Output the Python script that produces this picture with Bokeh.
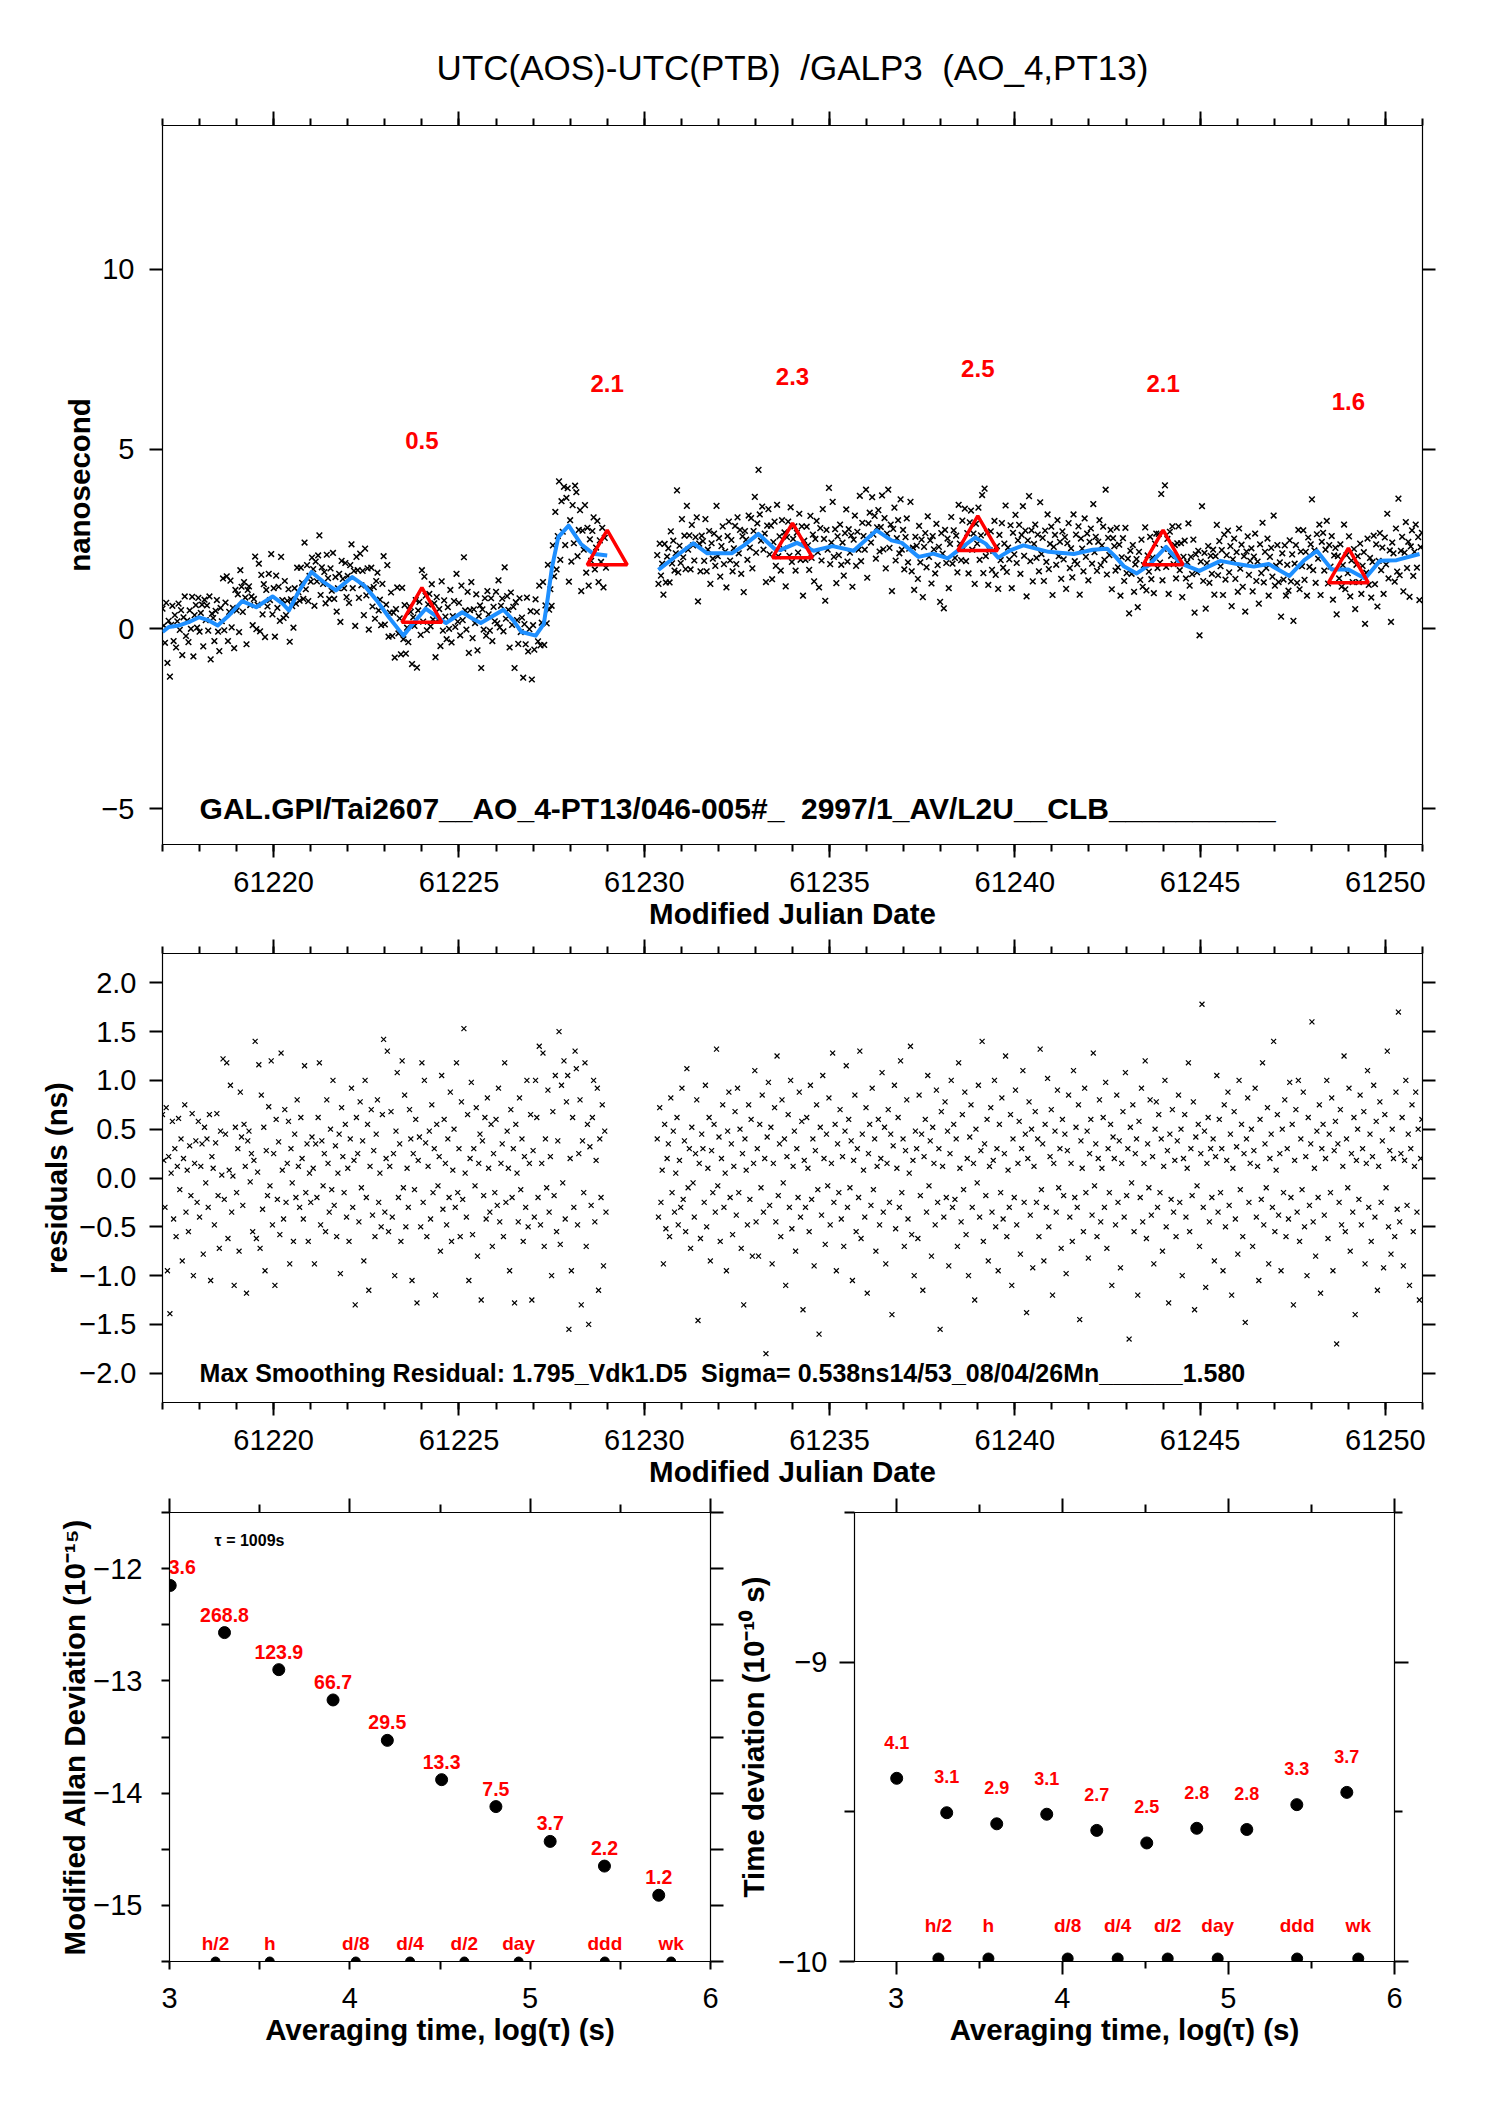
import numpy as np
from bokeh.plotting import figure
from bokeh.models import Range1d, LinearAxis, FixedTicker, Label, CustomJSTickFormatter, Title
from bokeh.layouts import column, row
from bokeh.embed import file_html
from bokeh.resources import INLINE
from bokeh.core.properties import value

FONT = "Liberation Sans"
NB = "\u00a0"

# ------------------------------------------------------------------ data
title_text = "UTC(AOS)-UTC(PTB) " + NB + "/GALP3 " + NB + "(AO_4,PT13)"
info_top = "GAL.GPI/Tai2607__AO_4-PT13/046-005#_ " + NB + "2997/1_AV/L2U__CLB__________"
info_mid = "Max Smoothing Residual: 1.795_Vdk1.D5 " + NB + "Sigma= 0.538ns14/53_08/04/26Mn______1.580"

seg_a_start = 61217.0      # MJD of first sample, first block
seg_b_start = 61230.35     # MJD of first sample, second block
samples_per_day = 30

# UTC(AOS)-UTC(PTB) samples, hundredths of ns
top_a = [
    56, 9, -39, 72, -95, 22, -133, 11, 64, -34, 38, -52, 21, 70, -3, 52, -73, 32, 90, -20, 23, -37, 51, 0, 89, -77, 38, 66, 3, 86,
    -8, 44, 67, -49, 81, 24, 65, -5, 90, -85, 42, 30, -34, 50, 80, -8, -62, 58, 21, 140, -4, 73, 146, -34, 47, 134, 4, 58, -54, 108,
    51, 96, -9, 163, 117, 47, 130, 87, -43, 108, 118, 66, 90, 10, 83, 201, -1, 67, 181, -7, 150, 40, 124, -23, 108, 62, 153, 80, 208, 40,
    113, -22, 148, 58, 117, 22, 200, 80, 30, 133, 38, 78, 110, -36, 82, 63, 3, 113, 70, 170, 102, 78, 170, 128, 83, 240, 110, 177, 77, 147,
    131, 198, 166, 64, 187, 132, 204, 260, 94, 171, 125, 158, 71, 206, 141, 83, 168, 106, 211, 83, 144, 48, 113, 153, 19, 189, 139, 113, 183, 88,
    147, 72, 177, 235, 113, 161, 8, 200, 163, 86, 209, 121, 161, 38, 223, 93, 168, -2, 112, 170, 62, 116, 28, 133, 156, 51, 81, 10, 125, 202,
    12, 67, 177, -22, 45, 101, -20, 45, -80, 55, 115, -13, 29, -71, 114, -29, 66, -69, 3, -37, 63, 47, -98, 32, 8, 80, -108, 51, 75, -17,
    163, 20, 145, 92, -4, 68, 97, 7, 124, 26, 71, -79, 88, 25, 55, -48, 132, -5, 79, 34, -29, 60, 0, 108, -38, 35, 77, 5, 153, 20,
    72, -18, 120, 24, 199, 51, -2, 103, -67, 52, 130, -26, 54, 16, 96, -60, 35, 65, -109, 54, -2, 85, -19, 105, 40, -5, 85, -34, 61, 21,
    103, 15, 135, 4, 64, 84, -7, 171, 28, 91, 53, -52, 101, 11, 61, -109, 74, 24, -42, 85, -9, 31, -136, 13, -43, 87, -63, -1, 49, -141,
    10, -58, 82, 47, -35, 120, -46, 17, 130, -45, 65, 15, 178, 53, 110, 64, 232, 146, 325, 165, 258, 410, 192, 355, 270, 395, 233, 364, 391, 131,
    302, 187, 344, 238, 398, 380, 202, 275, 330, 105, 273, 220, 344, 156, 281, 120, 249, 189, 272, 310, 165, 226, 300, 130, 246, 186, 281, 115, 253, 170,
]
top_b = [
    205, 125, 237, 148, 181, 95, 236, 129, 201, 224, 129, 271, 182, 245, 162, 210, 385, 157, 231, 183, 305, 199, 259, 166, 342, 220, 260, 165, 289, 232,
    190, 255, 310, 76, 237, 160, 259, 244, 189, 305, 160, 220, 272, 125, 238, 195, 265, 175, 342, 202, 252, 145, 230, 285, 180, 215, 115, 258, 298, 190,
    247, 160, 224, 286, 180, 310, 210, 275, 153, 257, 102, 272, 248, 192, 315, 226, 308, 168, 272, 367, 212, 293, 442, 318, 245, 340, 220, 265, 130, 287,
    333, 207, 287, 138, 241, 298, 175, 345, 202, 257, 162, 302, 223, 268, 118, 255, 298, 203, 338, 186, 250, 285, 162, 267, 212, 320, 192, 285, 92, 245,
    192, 284, 232, 164, 314, 197, 262, 132, 250, 300, 213, 115, 280, 190, 333, 250, 78, 275, 220, 392, 180, 240, 353, 200, 277, 127, 257, 205, 290, 178,
    240, 148, 266, 332, 187, 277, 212, 260, 117, 248, 315, 175, 270, 220, 370, 188, 295, 258, 220, 387, 142, 293, 323, 240, 366, 262, 314, 195, 282, 330,
    215, 283, 371, 221, 308, 168, 265, 387, 225, 290, 105, 278, 337, 190, 252, 302, 210, 360, 220, 275, 165, 255, 307, 185, 223, 353, 160, 226, 108, 256,
    231, 139, 286, 185, 248, 88, 228, 266, 171, 313, 200, 246, 126, 258, 221, 154, 292, 177, 228, 75, 266, 209, 57, 275, 183, 251, 113, 236, 311, 181,
    274, 197, 259, 157, 345, 237, 191, 301, 224, 334, 188, 266, 154, 296, 329, 220, 265, 125, 292, 237, 337, 192, 260, 372, 155, 390, 202, 267, 122, 219,
    271, 164, 217, 300, 150, 230, 111, 261, 191, 294, 170, 237, 343, 158, 226, 193, 288, 113, 267, 207, 317, 183, 246, 289, 153, 261, 341, 203, 273, 90,
    246, 369, 188, 274, 132, 236, 290, 197, 262, 160, 352, 208, 253, 133, 273, 186, 318, 166, 236, 284, 94, 228, 261, 178, 302, 202, 242, 139, 271, 193,
    255, 111, 238, 294, 169, 224, 143, 318, 188, 262, 180, 285, 95, 251, 223, 160, 307, 200, 265, 135, 242, 279, 181, 347, 213, 256, 161, 242, 302, 177,
    232, 284, 192, 387, 151, 253, 205, 275, 110, 252, 230, 162, 281, 171, 234, 92, 199, 252, 133, 281, 155, 195, 43, 217, 153, 233, 103, 179, 194, 60,
    214, 136, 248, 117, 177, 282, 107, 204, 159, 256, 138, 198, 99, 237, 265, 169, 264, 184, 375, 135, 222, 399, 172, 250, 97, 270, 203, 285, 180, 233,
    140, 238, 285, 163, 238, 88, 200, 245, 140, 185, 293, 120, 200, 152, 248, 45, 207, 157, 217, -18, 187, 341, 133, 211, 56, 183, 230, 128, 203, 153,
    220, 95, 202, 289, 149, 244, 174, 219, 94, 262, 137, 205, 273, 157, 230, 63, 193, 251, 139, 213, 103, 279, 167, 234, 117, 202, 48, 215, 257, 150,
    189, 224, 104, 201, 265, 133, 187, 70, 235, 155, 295, 129, 214, 169, 251, 92, 200, 225, 145, 315, 120, 176, 233, 130, 185, 34, 210, 137, 232, 92,
    178, 106, 246, 132, 207, 22, 181, 233, 128, 275, 110, 215, 174, 274, 136, 214, 92, 254, 172, 235, 360, 163, 218, 128, 263, 195, 290, 94, 242, 267,
    162, 220, 300, 126, 233, 173, 258, 81, 204, 225, 40, 202, 140, 235, 117, 177, 290, 110, 205, 155, 257, 90, 190, 130, 222, 55, 178, 202, 130, 237,
    97, 175, 213, 14, 156, 251, 122, 197, 87, 186, 259, 124, 235, 62, 189, 266, 163, 226, 97, 254, 179, 320, 140, 218, 19, 240, 210, 131, 279, 159,
    362, 149, 217, 256, 104, 212, 297, 169, 242, 89, 229, 274, 147, 214, 290, 170, 255, 80, 227, 267,
]

# smoothing residuals, hundredths of ns
res_a = [
    65, 18, -30, 72, -95, 22, -139, 5, 58, -42, 30, -60, 12, 61, -12, 40, -85, 20, 75, -35, 8, -55, 33, -18, 66, -100, 15, 38, -25, 58,
    -40, 12, 35, -78, 52, -5, 40, -30, 65, -105, 22, 10, -48, 36, 66, -18, -72, 48, 3, 122, -22, 45, 118, -62, 8, 95, -35, 2, -110, 52,
    -15, 30, -75, 88, 42, -28, 55, 12, -118, 38, 48, -4, 25, -55, 18, 140, -62, 6, 116, -72, 85, -32, 52, -95, 28, -18, 73, -8, 120, -48,
    25, -110, 60, -22, 37, -58, 128, 8, -42, 70, -25, 15, 58, -88, 30, -5, -65, 45, -20, 80, 12, -30, 62, 20, -42, 115, -15, 35, -65, 5,
    -25, 42, 10, -88, 35, -20, 62, 118, -48, 38, -8, 25, -55, 80, 15, -35, 50, -12, 100, -28, 33, -60, 5, 45, -98, 72, 22, -15, 55, -40,
    10, -65, 40, 92, -30, 18, -130, 62, 25, -45, 78, -10, 38, -85, 100, -20, 55, -115, 12, 70, -38, 28, -60, 45, 80, -25, 5, -50, 65, 142,
    -35, 20, 130, -55, 12, 68, -40, 25, -100, 48, 108, -20, 35, -65, 120, -10, 85, -50, 10, -30, 70, 40, -105, 25, -12, 60, -128, 18, 42, -50,
    118, -25, 100, 36, -60, 12, 48, -42, 75, -15, 30, -120, 55, -8, 22, -75, 105, -32, 60, 15, -48, 40, -20, 88, -65, 8, 50, -30, 118, -15,
    30, -60, 78, -22, 153, 5, -40, 65, -105, 20, 98, -58, 30, -8, 72, -80, 15, 45, -125, 38, -18, 62, -42, 82, 10, -35, 55, -70, 25, -15,
    60, -28, 92, -45, 15, 35, -60, 118, -25, 48, 10, -95, 70, -20, 30, -128, 55, 5, -45, 82, -12, 40, -65, 22, -30, 100, -50, 15, 65, -125,
    28, -40, 100, 62, -20, 135, -48, 15, 128, -70, 40, -10, 90, -35, 22, -100, 68, -18, 105, -55, 38, 150, -68, 95, -5, 120, -42, 78, 105, -155,
    20, -95, 62, -30, 130, 112, -48, 25, 80, -130, 38, -15, 118, -70, 55, -150, 32, -28, 62, 100, -45, 18, 92, -115, 40, -20, 75, -90, 48, -35,
]
res_b = [
    40, -40, 72, -25, 8, -88, 55, -52, 20, 35, -60, 82, -15, 48, -35, 5, 62, -48, 18, -30, 92, -22, 38, -55, 112, -10, 30, -72, 52, -5,
    -40, 25, 80, -146, 15, -62, 45, 30, -25, 95, -50, 10, 62, -85, 28, -15, 55, -35, 132, -8, 42, -65, 20, 75, -30, 5, -95, 48, 88, -20,
    35, -58, 12, 68, -38, 92, -15, 50, -72, 25, -130, 40, 8, -48, 75, -22, 60, -80, 15, 110, -45, 30, -80, 55, -10, 85, -35, 20, -180, 42,
    98, -28, 52, -88, 15, 72, -45, 125, -18, 35, -60, 80, -5, 40, -110, 22, 65, -30, 100, -52, 12, 48, -75, 30, -20, 88, -40, 58, -135, 18,
    -30, 62, 10, -55, 95, -22, 40, -90, 28, 75, -12, -160, 52, -38, 105, 20, -68, 45, -8, 82, -48, 15, 128, -25, 55, -95, 35, -15, 70, -42,
    22, -70, 48, 115, -30, 60, -10, 38, -105, 18, 85, -55, 30, -20, 130, -62, 45, 8, -40, 72, -118, 25, 55, -28, 92, -12, 40, -75, 12, 60,
    -48, 20, 108, -35, 52, -88, 15, 70, -25, 45, -140, 33, 95, -52, 10, 62, -30, 120, -15, 40, -70, 28, 80, -42, 5, 135, -58, 18, -100, 48,
    30, -62, 85, -18, 45, -115, 22, 60, -35, 105, -8, 38, -80, 52, 15, -48, 90, -25, 30, -155, 68, 12, -40, 78, -20, 48, -90, 25, 100, -30,
    55, -22, 40, -70, 118, 10, -45, 65, -12, 88, -58, 20, -100, 42, 75, -30, 15, -125, 50, -5, 95, -40, 28, 140, -65, 35, -18, 60, -85, 12,
    72, -35, 18, 100, -50, 30, -95, 55, -15, 82, -42, 25, 125, -60, 8, -30, 65, -110, 40, -20, 90, -48, 15, 58, -78, 30, 110, -25, 45, -138,
    20, 78, -38, 50, -92, 12, 68, -25, 40, -60, 132, -12, 35, -85, 55, -30, 102, -50, 22, 70, -120, 15, 48, -35, 90, -10, 30, -72, 60, -18,
    45, -98, 28, 85, -40, 15, -65, 110, -20, 52, -30, 75, -145, 38, 10, -55, 92, -15, 48, -82, 25, 60, -38, 128, -8, 35, -60, 20, 80, -45,
    10, 62, -30, 98, -72, 30, -15, 55, -110, 42, 20, -48, 85, -25, 38, -92, 15, 68, -40, 108, -18, 30, -165, 52, -5, 75, -55, 25, 40, -120,
    58, -20, 92, -45, 15, 120, -62, 35, -10, 80, -38, 22, -88, 50, 78, -30, 65, -15, 40, -75, 12, 100, -50, 28, -128, 45, -22, 70, -35, 18,
    -60, 38, 85, -25, 50, -100, 20, 65, -40, 10, 118, -55, 30, -18, 78, -135, 42, -8, 55, -70, 25, 178, -30, 48, -112, 15, 62, -45, 30, -20,
    40, -85, 22, 105, -35, 60, -15, 30, -95, 75, -50, 18, 88, -28, 45, -120, 10, 68, -42, 32, -78, 100, -12, 55, -60, 25, -148, 40, 82, -25,
    15, 50, -70, 28, 92, -40, 12, -105, 60, -22, 118, -48, 35, -10, 72, -88, 20, 45, -30, 140, -55, 8, 65, -38, 25, -95, 50, -15, 80, -60,
    30, -42, 98, -20, 55, -130, 18, 70, -35, 100, -65, 40, -12, 88, -50, 22, -100, 62, -28, 35, 160, -45, 10, -80, 48, -20, 75, -118, 30, 55,
    -38, 20, 100, -62, 45, -15, 82, -95, 28, 58, -170, 35, -25, 70, -48, 12, 125, -55, 40, -10, 92, -75, 25, -35, 62, -140, 18, 50, -22, 85,
    -48, 30, 68, -88, 15, 110, -30, 45, -65, 22, 95, -40, 58, -115, 12, 78, -25, 38, -92, 65, -10, 130, -50, 28, -78, 50, 20, -60, 88, -32,
    170, -45, 25, 62, -90, 18, 100, -28, 45, -110, 30, 75, -55, 12, 88, -35, 50, -125, 20, 60,
]

# smoothed curve (blue), MJD / ns
curve_a_x = [61217.00, 61217.17, 61217.44, 61217.72, 61217.99, 61218.21, 61218.49, 61218.76, 61219.15, 61219.53,
             61219.97, 61220.25, 61220.41, 61220.69, 61221.02, 61221.35, 61221.68, 61222.12, 61222.45, 61222.78,
             61223.11, 61223.50, 61223.83, 61224.10, 61224.43, 61224.65, 61225.09, 61225.37, 61225.59, 61226.20,
             61226.47, 61226.69, 61227.07, 61227.29, 61227.40, 61227.51, 61227.68, 61227.96, 61228.29, 61228.62, 61229.00]
curve_a_y = [-0.09, 0.05, 0.09, 0.19, 0.32, 0.25, 0.09, 0.34, 0.77, 0.60,
             0.90, 0.69, 0.51, 1.07, 1.58, 1.30, 1.07, 1.44, 1.20, 0.79,
             0.32, -0.19, 0.23, 0.56, 0.32, 0.16, 0.46, 0.28, 0.16, 0.53,
             0.23, -0.09, -0.19, 0.14, 0.88, 1.71, 2.55, 2.87, 2.36, 2.09, 2.04]
curve_b_x = [61230.38, 61230.82, 61231.32, 61231.70, 61232.36, 61232.69, 61233.08, 61233.52, 61233.67, 61234.12,
             61234.57, 61235.08, 61235.65, 61236.27, 61236.67, 61236.95, 61237.40, 61237.80, 61238.19, 61238.59,
             61238.93, 61239.21, 61239.55, 61239.89, 61240.23, 61240.91, 61241.59, 61242.10, 61242.49, 61242.72,
             61242.95, 61243.29, 61243.62, 61244.08, 61244.47, 61244.98, 61245.55, 61246.00, 61246.45, 61246.85,
             61247.41, 61247.81, 61248.15, 61248.55, 61249.00, 61249.45, 61249.85, 61250.30, 61250.92]
curve_b_y = [1.64, 1.99, 2.38, 2.10, 2.10, 2.32, 2.64, 2.22, 2.19, 2.39,
             2.17, 2.30, 2.17, 2.74, 2.46, 2.39, 2.00, 2.09, 1.96, 2.28,
             2.54, 2.37, 1.98, 2.19, 2.32, 2.14, 2.08, 2.20, 2.23, 2.00,
             1.73, 1.54, 1.77, 2.28, 1.82, 1.61, 1.89, 1.80, 1.73, 1.80,
             1.47, 1.91, 2.17, 1.65, 1.65, 1.40, 1.89, 1.91, 2.08]

# 5-day mean markers
tri_mjd = [61224, 61229, 61234, 61239, 61244, 61249]
tri_val = [0.5, 2.1, 2.3, 2.5, 2.1, 1.6]
tri_lbl = ["0.5", "2.1", "2.3", "2.5", "2.1", "1.6"]

# stability
log_tau = [3.004, 3.305, 3.606, 3.907, 4.208, 4.509, 4.810, 5.111, 5.412, 5.713]
mdev = [-12.15, -12.57, -12.90, -13.17, -13.53, -13.88, -14.12, -14.43, -14.65, -14.91]
mdev_lbl = ["3.6", "268.8", "123.9", "66.7", "29.5", "13.3", "7.5", "3.7", "2.2", "1.2"]
tdev = [-9.388, -9.503, -9.540, -9.508, -9.562, -9.604, -9.555, -9.559, -9.476, -9.435]
tdev_lbl = ["4.1", "3.1", "2.9", "3.1", "2.7", "2.5", "2.8", "2.8", "3.3", "3.7"]
span_lbl = ["h/2", "h", "d/8", "d/4", "d/2", "day", "ddd", "wk"]
span_log = [3.255, 3.556, 4.033, 4.334, 4.635, 4.936, 5.414, 5.782]
tau0_text = "\u03c4 = 1009s"

mjd_major = [61220, 61225, 61230, 61235, 61240, 61245, 61250]
mjd_minor = list(range(61217, 61252))

# ------------------------------------------------------------------ helpers
def fmt(nd):
    return CustomJSTickFormatter(code="return tick.toFixed(%d).replace('-', '\u2212');" % nd)


def style_axis(ax, major, minor, out, minor_out, show=False, standoff=9, nd=0):
    ax.ticker = FixedTicker(ticks=major, minor_ticks=minor)
    ax.axis_line_color = None
    ax.major_tick_in = 0
    ax.minor_tick_in = 0
    ax.major_tick_out = out
    ax.minor_tick_out = minor_out
    ax.major_tick_line_width = 2
    ax.minor_tick_line_width = 2
    ax.major_tick_line_color = "black"
    ax.minor_tick_line_color = "black"
    if show:
        ax.formatter = fmt(nd)
        ax.major_label_text_font = FONT
        ax.major_label_text_font_size = "29px"
        ax.major_label_text_color = "black"
        ax.major_label_standoff = standoff
    else:
        ax.formatter = CustomJSTickFormatter(code="return '';")
        ax.major_label_standoff = 0
        ax.major_label_text_font_size = "1px"


def set_label(ax, text, standoff):
    ax.axis_label = text
    ax.axis_label_text_font = FONT
    ax.axis_label_text_font_size = "29.5px"
    ax.axis_label_text_font_style = "bold"
    ax.axis_label_text_color = "black"
    ax.axis_label_standoff = standoff


def make_fig(w, h, xr, yr, bl, br, bt, bb):
    p = figure(width=w, height=h, x_range=Range1d(*xr), y_range=Range1d(*yr),
               output_backend="svg", toolbar_location=None, title=None,
               min_border_left=bl, min_border_right=br, min_border_top=bt, min_border_bottom=bb)
    p.xgrid.visible = False
    p.ygrid.visible = False
    p.outline_line_color = "black"
    p.outline_line_width = 1.2
    p.background_fill_color = "white"
    p.border_fill_color = "white"
    p.add_layout(LinearAxis(), "above")
    p.add_layout(LinearAxis(), "right")
    return p


xa = seg_a_start + np.arange(len(top_a)) / samples_per_day
xb = seg_b_start + np.arange(len(top_b)) / samples_per_day

# ------------------------------------------------------------------ top panel
p1 = make_fig(1478, 936, (61217, 61251), (-6, 14), 162, 56, 125, 92)
p1.title = Title(text=title_text, align="center", text_font=FONT, text_font_size="35px",
                 text_font_style="normal", text_color="black", standoff=49)
style_axis(p1.below[0], mjd_major, mjd_minor, 13, 7, True, 14, 0)
style_axis(p1.above[0], mjd_major, mjd_minor, 14, 7)
style_axis(p1.left[0], [-5, 0, 5, 10], [], 13, 0, True, 15, 0)
style_axis(p1.right[0], [-5, 0, 5, 10], [], 13, 0)
set_label(p1.below[0], "Modified Julian Date", 2)
set_label(p1.left[0], "nanosecond", 2)

p1.scatter(xa, np.array(top_a) / 100, marker="x", size=8, line_color="#000000", line_width=1.5)
p1.scatter(xb, np.array(top_b) / 100, marker="x", size=8, line_color="#000000", line_width=1.5)
p1.line(curve_a_x, curve_a_y, line_color="#1E8FFF", line_width=4, line_join="round")
p1.line(curve_b_x, curve_b_y, line_color="#1E8FFF", line_width=4, line_join="round")
p1.scatter(tri_mjd, tri_val, marker="triangle", size=40, fill_color=None, line_color="red", line_width=3.5)
p1.text(tri_mjd, tri_val, text=tri_lbl, y_offset=-170, text_align="center", text_baseline="middle",
        text_font=value(FONT), text_font_size=value("24px"), text_font_style="bold", text_color="red")
p1.add_layout(Label(x=61218, y=-5, text=info_top, text_align="left", text_baseline="alphabetic",
                    text_font=FONT, text_font_size="30px", text_font_style="bold", text_color="black"))

# ------------------------------------------------------------------ residual panel
p2 = make_fig(1478, 558, (61217, 61251), (-2.3, 2.3), 162, 56, 17, 92)
res_ticks = [-2.0, -1.5, -1.0, -0.5, 0.0, 0.5, 1.0, 1.5, 2.0]
style_axis(p2.below[0], mjd_major, mjd_minor, 13, 7, True, 14, 0)
style_axis(p2.above[0], mjd_major, mjd_minor, 14, 7)
style_axis(p2.left[0], res_ticks, [], 13, 0, True, 13, 1)
style_axis(p2.right[0], res_ticks, [], 13, 0)
set_label(p2.below[0], "Modified Julian Date", 2)
set_label(p2.left[0], "residuals (ns)", 3)

p2.scatter(xa, np.array(res_a) / 100, marker="x", size=7, line_color="#000000", line_width=1.2)
p2.scatter(xb, np.array(res_b) / 100, marker="x", size=7, line_color="#000000", line_width=1.2)
p2.add_layout(Label(x=61218, y=-2.0, text=info_mid, text_align="left", text_baseline="middle",
                    text_font=FONT, text_font_size="25px", text_font_style="bold", text_color="black"))

# ------------------------------------------------------------------ MDEV panel
p3 = make_fig(729, 577, (3, 6), (-15.5, -11.5), 169, 19, 18, 110)
style_axis(p3.below[0], [3, 4, 5, 6], [3.5, 4.5, 5.5], 8, 8, True, 18, 0)
style_axis(p3.above[0], [3, 4, 5, 6], [3.5, 4.5, 5.5], 14, 8)
style_axis(p3.left[0], [-15, -14, -13, -12], [-15.5, -14.5, -13.5, -12.5, -11.5], 8, 8, True, 19, 0)
style_axis(p3.right[0], [-15, -14, -13, -12], [-15.5, -14.5, -13.5, -12.5, -11.5], 13, 13)
set_label(p3.below[0], "Averaging time, log(\u03c4) (s)", 2)
set_label(p3.left[0], "Modified Allan Deviation (10\u207b\u00b9\u2075)", -1)

p3.scatter(log_tau, mdev, size=12, color="black")
p3.text(log_tau[1:], mdev[1:], text=mdev_lbl[1:], y_offset=-18, text_align="center", text_baseline="middle",
        text_font=value(FONT), text_font_size=value("19.5px"), text_font_style="bold", text_color="red")
p3.text(log_tau[:1], mdev[:1], text=mdev_lbl[:1], x_offset=12, y_offset=-18, text_align="center",
        text_baseline="middle", text_font=value(FONT), text_font_size=value("19.5px"),
        text_font_style="bold", text_color="red")
p3.scatter(span_log, [-15.5] * len(span_log), size=9, color="black")
p3.text(span_log, [-15.5] * len(span_log), text=span_lbl, y_offset=-18, text_align="center",
        text_baseline="middle", text_font=value(FONT), text_font_size=value("19px"),
        text_font_style="bold", text_color="red")
p3.add_layout(Label(x=3.25, y=-11.75, text=tau0_text, text_align="left", text_baseline="middle",
                    text_font=FONT, text_font_size="16px", text_font_style="bold", text_color="black"))

# ------------------------------------------------------------------ TDEV panel
p4 = make_fig(749, 577, (2.75, 6), (-10, -8.5), 125, 84, 18, 110)
style_axis(p4.below[0], [3, 4, 5, 6], [3.5, 4.5, 5.5], 13, 7, True, 13, 0)
style_axis(p4.above[0], [3, 4, 5, 6], [3.5, 4.5, 5.5], 14, 8)
style_axis(p4.left[0], [-10, -9], [-9.5, -8.5], 15, 10, True, 12, 0)
style_axis(p4.right[0], [-10, -9], [-9.5, -8.5], 14, 8)
set_label(p4.below[0], "Averaging time, log(\u03c4) (s)", 2)
set_label(p4.left[0], "Time deviation (10\u207b\u00b9\u2070 s)", 5)

p4.scatter(log_tau, tdev, size=12, color="black")
p4.text(log_tau, tdev, text=tdev_lbl, y_offset=-36, text_align="center", text_baseline="middle",
        text_font=value(FONT), text_font_size=value("18px"), text_font_style="bold", text_color="red")
p4.scatter(span_log, [-9.99] * len(span_log), size=11, color="black")
p4.text(span_log, [-9.99] * len(span_log), text=span_lbl, y_offset=-33, text_align="center",
        text_baseline="middle", text_font=value(FONT), text_font_size=value("19px"),
        text_font_style="bold", text_color="red")

layout = column(p1, p2, row(p3, p4))
open("out.html", "w").write(file_html(layout, INLINE, "UTC(AOS)-UTC(PTB)"))
